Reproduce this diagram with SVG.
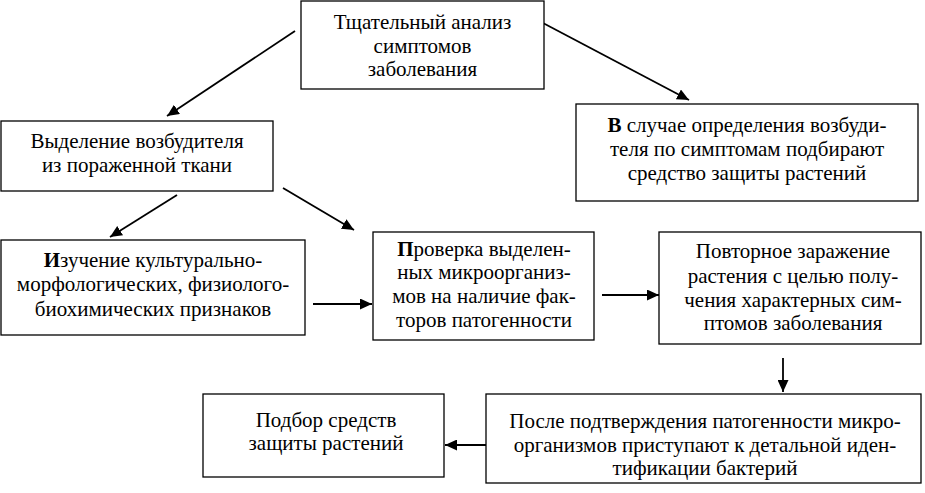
<svg xmlns="http://www.w3.org/2000/svg" width="925" height="493" viewBox="0 0 925 493">
<style>
.box{fill:#fff;stroke:#000;stroke-width:1.3}
.t{font-family:"Liberation Serif","Times New Roman",serif;font-size:21px;fill:#000;text-anchor:middle}
.c{stroke:#000;stroke-width:1.8;fill:none;marker-end:url(#ah)}
.b{font-weight:bold}
</style>
<defs>
<marker id="ah" markerUnits="userSpaceOnUse" markerWidth="13" markerHeight="11" refX="12" refY="5.5" orient="auto">
<path d="M0,0 L12,5.5 L0,11 z" fill="#000"/>
</marker>
</defs>
<rect width="925" height="493" fill="#fff"/>
<g id="connectors">
<line class="c" x1="295" y1="31" x2="167" y2="116"/>
<line class="c" x1="543" y1="23" x2="689" y2="100"/>
<line class="c" x1="177" y1="195" x2="110" y2="237"/>
<line class="c" x1="283" y1="188" x2="354" y2="230"/>
<line class="c" x1="313" y1="304" x2="372" y2="304"/>
<line class="c" x1="602" y1="295" x2="659" y2="295"/>
<line class="c" x1="783" y1="358" x2="783" y2="392"/>
<line class="c" x1="486" y1="445" x2="445" y2="445"/>
</g>
<g id="n1">
<rect class="box" x="301" y="1" width="243" height="88"/>
<text class="t" x="422.5" y="29">Тщательный анализ</text>
<text class="t" x="422.5" y="53">симптомов</text>
<text class="t" x="422.5" y="76">заболевания</text>
</g>
<g id="n2">
<rect class="box" x="1" y="121" width="272" height="70"/>
<text class="t" x="137" y="148">Выделение возбудителя</text>
<text class="t" x="137" y="172">из пораженной ткани</text>
</g>
<g id="n3">
<rect class="box" x="576" y="104" width="342" height="97"/>
<text class="t" x="747" y="132"><tspan class="b">В</tspan> случае определения возбуди-</text>
<text class="t" x="747" y="156">теля по симптомам подбирают</text>
<text class="t" x="747" y="180">средство защиты растений</text>
</g>
<g id="n4">
<rect class="box" x="1" y="240" width="304" height="95"/>
<text class="t" x="153" y="267"><tspan class="b">И</tspan>зучение культурально-</text>
<text class="t" x="153" y="291">морфологических, физиолого-</text>
<text class="t" x="153" y="316">биохимических признаков</text>
</g>
<g id="n5">
<rect class="box" x="373" y="232" width="221" height="108"/>
<text class="t" x="484" y="256"><tspan class="b">П</tspan>роверка выделен-</text>
<text class="t" x="484" y="279">ных микроорганиз-</text>
<text class="t" x="484" y="303">мов на наличие фак-</text>
<text class="t" x="484" y="327">торов патогенности</text>
</g>
<g id="n6">
<rect class="box" x="659" y="232" width="262" height="112"/>
<text class="t" x="793" y="258">Повторное заражение</text>
<text class="t" x="793" y="283">растения с целью полу-</text>
<text class="t" x="793" y="307">чения характерных сим-</text>
<text class="t" x="793" y="330">птомов заболевания</text>
</g>
<g id="n7">
<rect class="box" x="203" y="394" width="241" height="83"/>
<text class="t" x="326" y="427">Подбор средств</text>
<text class="t" x="326" y="450">защиты растений</text>
</g>
<g id="n8">
<rect class="box" x="486" y="394" width="435" height="89"/>
<text class="t" x="705" y="428">После подтверждения патогенности микро-</text>
<text class="t" x="705" y="452">организмов приступают к детальной иден-</text>
<text class="t" x="705" y="475">тификации бактерий</text>
</g>
</svg>
